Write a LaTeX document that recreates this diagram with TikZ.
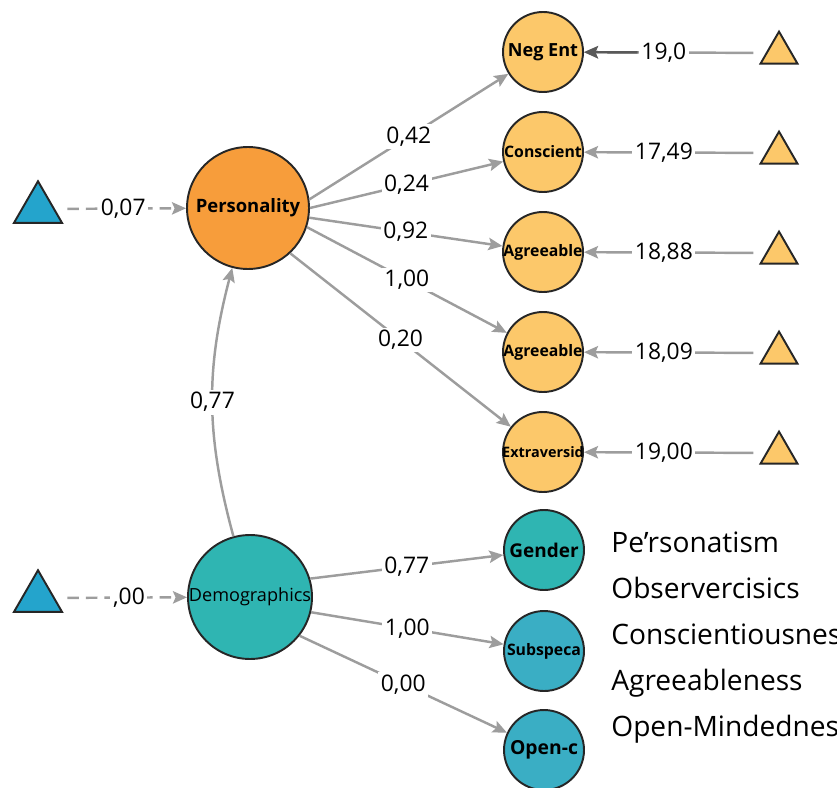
\documentclass[tikz,border=0pt]{standalone}
\usepackage{fontspec}
\setmainfont{Open Sans}
\usetikzlibrary{arrows.meta,shapes.geometric,positioning}
\definecolor{persorange}{HTML}{F79D3B}
\definecolor{traityellow}{HTML}{FCC86A}
\definecolor{demoteal}{HTML}{2FB5B2}
\definecolor{subblue}{HTML}{3AAEC4}
\definecolor{triblue}{HTML}{24A4CC}
\definecolor{edgegray}{HTML}{9D9D9D}
\tikzset{
    bigc/.style={circle, draw=black!85, line width=1.1pt, minimum size=2.44cm, inner sep=0pt}, % 潜变量大圆
    smallc/.style={circle, draw=black!85, line width=1.1pt, minimum size=1.6cm, inner sep=0pt}, % 指标小圆
    tri/.style={regular polygon, regular polygon sides=3, draw=black!85, line width=1.1pt, inner sep=0pt}, % 误差三角形
    arr/.style={draw=edgegray, line width=1.4pt, -{Stealth[length=8pt, width=7pt, inset=1.5pt]}}, % 路径箭头
    wt/.style={fill=white, inner sep=1.5pt, font=\fontsize{13}{13}\selectfont}, % 路径系数
    keytext/.style={font=\fontsize{16}{16}\selectfont, inner sep=0pt, text height=12pt, text depth=3pt} % 右下文字
}
\newcommand{\cname}[1]{\makebox[0pt]{#1}}

\begin{document}
\begin{tikzpicture}[x=0.02cm, y=-0.02cm]
    \useasboundingbox (0,0) rectangle (837,787);
    \clip (0,0) rectangle (837,787);

    \node[bigc, fill=persorange, font=\bfseries\fontsize{10.5}{12}\selectfont] (pers) at (248,208) {\cname{Personality}};
    \node[bigc, minimum size=2.48cm, fill=demoteal, font=\fontsize{10.3}{12}\selectfont] (demo) at (250,597) {\cname{Demographics}};

    \node[tri, fill=triblue, minimum size=1.11cm] (tp) at (38,209) {};
    \node[tri, fill=triblue, minimum size=1.11cm] (td) at (38,598) {};

    \foreach \i/\trait/\fs/\val in {1/Neg Ent/10.3/{19,0}, 2/Conscient/9/{17,49}, 3/Agreeable/9/{18,88}, 4/Agreeable/9/{18,09}, 5/Extraversid/8.2/{19,00}} {
        \node[smallc, fill=traityellow, font=\bfseries\fontsize{\fs}{12}\selectfont] (y\i) at (543,{52+100*(\i-1)}) {\cname{\trait}};
        \node[tri, fill=traityellow, minimum size=0.855cm] (t\i) at (779,{53+100*(\i-1)}) {};
        \draw[arr, shorten <=7pt] (t\i) -- node[wt, pos=0.56] (w\i) {\val} (y\i);
    }
    \draw[arr, draw=black!65] (w1) -- (y1);

    \node[smallc, fill=demoteal, font=\bfseries\fontsize{10.8}{12}\selectfont] (gen) at (544,550) {\cname{Gender}};
    \node[smallc, fill=subblue, font=\bfseries\fontsize{9}{12}\selectfont] (sub) at (544,651) {\cname{Subspeca}};
    \node[smallc, fill=subblue, font=\bfseries\fontsize{11}{12}\selectfont] (open) at (544,750) {\cname{Open-c}};

    \draw[arr] (pers.8) -- node[wt] {0,42} (y1);
    \draw[arr] (pers.0) -- node[wt] {0,24} (y2);
    \draw[arr] (pers.-9) -- node[wt] {0,92} (y3);
    \draw[arr] (pers.-18) -- node[wt] {1,00} (y4);
    \draw[arr] (pers.-47) -- node[wt] {0,20} (y5);

    \draw[arr] (demo.17) -- node[wt] {0,77} (gen);
    \draw[arr] (demo.-14) -- node[wt] {1,00} (sub);
    \draw[arr] (demo.-38) -- node[wt] {0,00} (open);
    \draw[arr] (demo) to[bend left=15] node[wt] {0,77} (pers);

    \draw[arr, dash pattern=on 6.5pt off 4pt, shorten <=7pt] (tp) -- node[wt, pos=0.52] {0,07} (pers);
    \draw[arr, dash pattern=on 6.5pt off 4pt, shorten <=7pt] (td) -- node[wt, pos=0.56] {,00} (demo);

    \foreach \i/\txt in {1/Pe'rsonatism, 2/Observercisics, 3/Conscientiousness, 4/Agreeableness, 5/Open-Mindedness}
        \node[keytext, anchor=west] (k\i) at (611,{545+46*(\i-1)}) {\txt};
\end{tikzpicture}
\end{document}
